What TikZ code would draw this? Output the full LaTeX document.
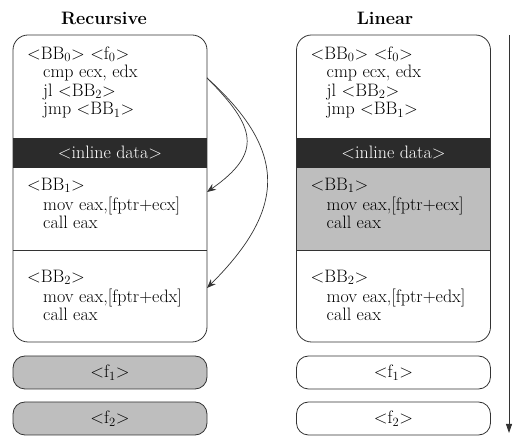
\documentclass[tikz,border=0pt]{standalone}
\usepackage{tikz}
\usetikzlibrary{positioning,arrows.meta}
\definecolor{bandcol}{HTML}{2B2B2B}
\definecolor{shadecol}{HTML}{BEBEBE}
\definecolor{linecol}{HTML}{333333}
\newcommand{\blk}[1]{<BB\textsubscript{#1}>}
\newcommand{\fnc}[1]{<f\textsubscript{#1}>}
\newcommand{\ind}{\hspace*{16pt}}
\tikzset{
  sect/.style={rectangle, minimum width=194pt, inner sep=0pt, outer sep=0pt},
  band/.style={sect, minimum height=30pt, fill=bandcol, text=white},
  code/.style={inner sep=0pt, align=left, anchor=north west},
  title/.style={font=\fontsize{18}{18.5}\selectfont\bfseries, anchor=base},
  frame/.style={draw=linecol, line width=0.8pt, rounded corners=15pt},
  divider/.style={draw=linecol, line width=0.8pt},
  fbox/.style={sect, draw=linecol, line width=0.8pt, rounded corners=12pt, minimum height=33pt},
  jump/.style={draw=linecol, line width=0.7pt, -{Stealth[length=9pt,width=7pt]}},
}

\begin{document}
\begin{tikzpicture}[x=1pt,y=1pt,font=\fontsize{18}{18.5}\selectfont]
  \useasboundingbox (0,0) rectangle (514,436);

  % recursive
  \node[title] (rtitle) at (104,411) {Recursive};
  \node[sect, minimum height=103pt, anchor=north] (rbb0) at (110,401) {};
  \node[band, below=0pt of rbb0] (rdata) {<inline data>};
  \node[sect, minimum height=82pt, below=0pt of rdata] (rbb1) {};
  \node[sect, minimum height=92pt, below=0pt of rbb1] (rbb2) {};
  \node[fbox, fill=shadecol, below=14pt of rbb2] (rf1) {\fnc{1}};
  \node[fbox, fill=shadecol, below=13pt of rf1] (rf2) {\fnc{2}};
  \draw[frame] (rbb0.north west) rectangle (rbb2.south east);
  \draw[divider] (rbb1.south west) -- (rbb1.south east);
  \node[code, below right=11pt and 14pt of rbb0.north west] (rtxt0)
    {\strut\blk{0} \fnc{0}\\ \ind cmp ecx, edx\\ \ind jl \blk{2}\\ \ind jmp \blk{1}};
  \node[code, below right=9pt and 14pt of rbb1.north west] (rtxt1)
    {\strut\blk{1}\\ \ind mov eax,[fptr+ecx]\\ \ind call eax};
  \node[code, below right=19pt and 14pt of rbb2.north west] (rtxt2)
    {\strut\blk{2}\\ \ind mov eax,[fptr+edx]\\ \ind call eax};
  \coordinate (jfrom) at ([yshift=-43pt]rbb0.north east);
  \coordinate (jto1) at ([yshift=-24pt]rbb1.north east);
  \coordinate (jto2) at ([yshift=-38pt]rbb2.north east);
  \draw[jump] (jfrom) to[out=-45, in=35, looseness=1.55] (jto1);
  \draw[jump] (jfrom) to[out=-42, in=45, looseness=1.35] (jto2);

  % linear
  \node[title] (ltitle) at (385,411) {Linear};
  \node[sect, minimum height=103pt, anchor=north] (lbb0) at (393.5,401) {};
  \node[band, below=0pt of lbb0] (ldata) {<inline data>};
  \node[sect, fill=shadecol, minimum height=82pt, below=0pt of ldata] (lbb1) {};
  \node[sect, minimum height=92pt, below=0pt of lbb1] (lbb2) {};
  \node[fbox, below=14pt of lbb2] (lf1) {\fnc{1}};
  \node[fbox, below=13pt of lf1] (lf2) {\fnc{2}};
  \draw[frame] (lbb0.north west) rectangle (lbb2.south east);
  \draw[divider] (lbb1.south west) -- (lbb1.south east);
  \node[code, below right=11pt and 14pt of lbb0.north west] (ltxt0)
    {\strut\blk{0} \fnc{0}\\ \ind cmp ecx, edx\\ \ind jl \blk{2}\\ \ind jmp \blk{1}};
  \node[code, below right=9pt and 14pt of lbb1.north west] (ltxt1)
    {\strut\blk{1}\\ \ind mov eax,[fptr+ecx]\\ \ind call eax};
  \node[code, below right=19pt and 14pt of lbb2.north west] (ltxt2)
    {\strut\blk{2}\\ \ind mov eax,[fptr+edx]\\ \ind call eax};

  % order of layout
  \coordinate (ttop) at (509,401);
  \coordinate (tbot) at (509,3);
  \draw[divider, -{Triangle[length=9pt,width=6pt]}] (ttop) -- (tbot);
\end{tikzpicture}
\end{document}
